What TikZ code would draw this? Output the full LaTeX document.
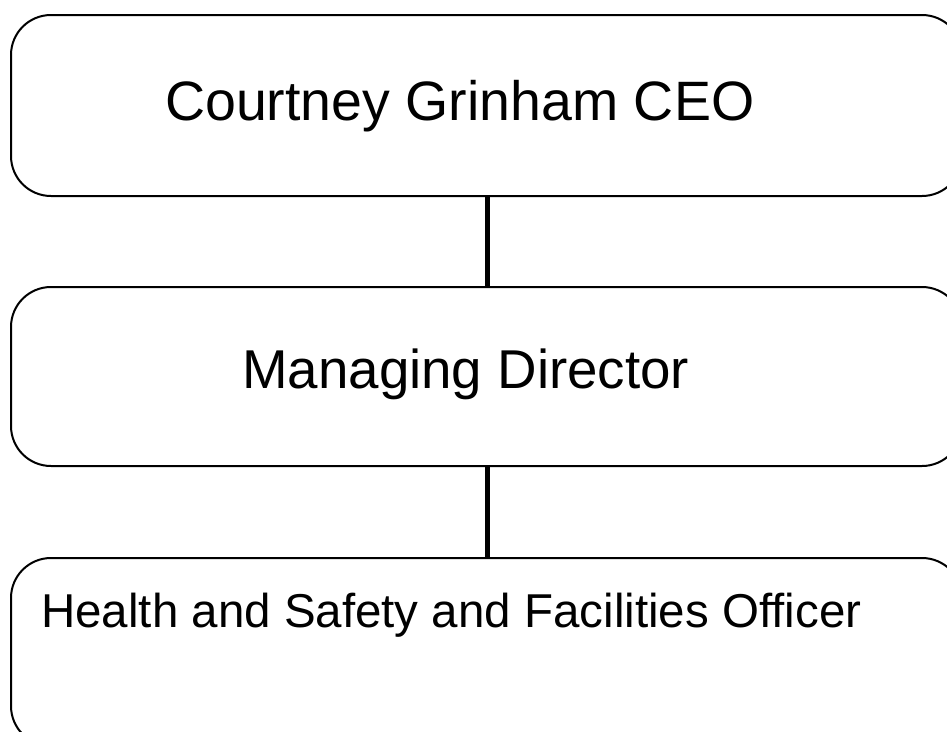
\documentclass[tikz,border=0pt]{standalone}
\usepackage{fontspec}
\setmainfont{Liberation Sans}
\begin{document}
\begin{tikzpicture}[x=1pt,y=-1pt,
  orgbox/.style={draw=black, line width=2pt, rounded corners=40pt, minimum width=951pt, inner sep=0pt, fill=white},
  link/.style={draw=black, line width=5pt},
  lbl/.style={inner sep=0pt, anchor=base west}]
\useasboundingbox (0,0) rectangle (947,731);
\clip (0,0) rectangle (947,731);
\fill[white] (0,0) rectangle (947,731);
\node[orgbox, minimum height=181pt] (b1) at (486.5,105.5) {};
\node[orgbox, minimum height=179pt] (b2) at (486.5,376.5) {};
\node[orgbox, minimum height=188pt] (b3) at (486.5,652) {};
\draw[link] (b1.south -| 487,0) -- (b2.north -| 487,0);
\draw[link] (b2.south -| 487,0) -- (b3.north -| 487,0);
\node[lbl, font=\fontsize{55.5}{58}\selectfont] (t1) at (165,120) {Courtney Grinham CEO};
\node[lbl, font=\fontsize{54.7}{57}\selectfont] (t2) at (242,388) {Managing Director};
\node[lbl, font=\fontsize{47.5}{50}\selectfont] (t3) at (41,627) {Health and Safety and Facilities Officer};
\end{tikzpicture}
\end{document}
